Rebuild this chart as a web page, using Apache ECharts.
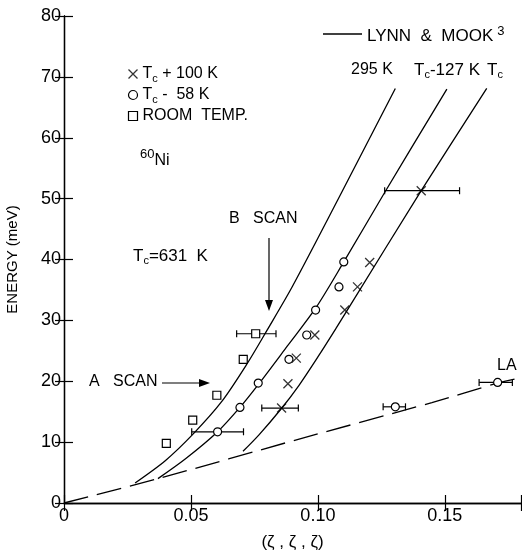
<!DOCTYPE html>
<html>
<head>
<meta charset="utf-8">
<script src="https://cdn.jsdelivr.net/npm/echarts@6/dist/echarts.min.js"></script>
<style>
html, body { margin: 0; padding: 0; background: #fff; }
#main { width: 522px; height: 550px; }
</style>
</head>
<body>
<div id="main"></div>
<script>
var xTickLabels = ['0', '0.05', '0.10', '0.15'];
var yTickLabels = ['0', '10', '20', '30', '40', '50', '60', '70', '80'];

// measured points: [zeta, energy]
var crossPts = [[0.0857, 15.6], [0.0882, 19.6], [0.0915, 23.8], [0.0988, 27.6], [0.1106, 31.7], [0.1156, 35.5], [0.1204, 39.5], [0.1407, 51.3]];
var circlePts = [[0.0605, 11.7], [0.0693, 15.7], [0.0765, 19.7], [0.0886, 23.6], [0.0956, 27.6], [0.0991, 31.7], [0.1083, 35.5], [0.1102, 39.6], [0.1305, 15.8], [0.1708, 19.8]];
var squarePts = [[0.0403, 9.8], [0.0507, 13.6], [0.0602, 17.7], [0.0706, 23.6], [0.0755, 27.8]];
// horizontal error bars: [energy, zeta low, zeta high]
var errBars = [[27.8, 0.068, 0.0835], [11.7, 0.0503, 0.0707], [15.8, 0.1257, 0.1345], [19.8, 0.1635, 0.1766], [15.6, 0.0779, 0.0923], [51.3, 0.1263, 0.1558]];

// Lynn & Mook curves
var curve295 = [[0.028, 3.3], [0.040, 7.0], [0.051, 11.4], [0.062, 16.6], [0.072, 22.8], [0.080, 28.4], [0.090, 35.6], [0.1076, 49.6], [0.1305, 68.1]];
var curveTc127 = [[0.037, 4.0], [0.048, 7.3], [0.0605, 11.7], [0.0697, 15.9], [0.0768, 19.6], [0.088, 25.8], [0.0991, 32.0], [0.1102, 39.6], [0.1263, 51.0], [0.1508, 68.0]];
var curveTc = [[0.0705, 8.5], [0.0768, 11.2], [0.0854, 15.4], [0.0925, 19.3], [0.100, 24.0], [0.107, 28.6], [0.1125, 32.3], [0.1407, 51.3], [0.1665, 68.1]];
var laLine = [[0, 0], [0.037, 4.0], [0.0926, 10.5], [0.1449, 16.5], [0.1708, 19.7], [0.18, 20.6]];

var FONT = '"Liberation Sans", Arial, sans-serif';
var crossPath = 'path://M0,0L10,10M10,0L0,10';

var myChart = echarts.init(document.getElementById('main'));

function curveSeries(data, dashed) {
    return {
        type: 'line',
        data: data,
        smooth: 0.3,
        symbol: 'none',
        silent: true,
        lineStyle: {color: '#000', width: 1.3, type: dashed ? [25, 9] : 'solid'},
        z: 2
    };
}

var sub = {
    t: {fontSize: 16, fontFamily: FONT, color: '#000'},
    s: {fontSize: 11, fontFamily: FONT, color: '#000', padding: [9, 0, 0, 0]},
    p: {fontSize: 11, fontFamily: FONT, color: '#000', padding: [0, 0, 9, 0]}
};

var option = {
    animation: false,
    grid: {left: 64, right: 1, top: 16, bottom: 47, containLabel: false, outerBoundsMode: 'none'},
    legend: {
        orient: 'vertical',
        left: 121,
        top: 61,
        itemWidth: 9,
        itemHeight: 9,
        itemGap: 3,
        textStyle: {rich: sub},
        formatter: function (name) {
            if (name === 'plus') return '{t|T}{s|c}{t| + 100 K}';
            if (name === 'minus') return '{t|T}{s|c}{t| -  58 K}';
            return '{t|ROOM  TEMP.}';
        },
        data: [
            {name: 'plus', icon: crossPath, itemStyle: {color: 'none', borderColor: '#000', borderWidth: 1.3}},
            {name: 'minus', icon: 'circle', itemStyle: {color: '#fff', borderColor: '#000', borderWidth: 1.2}},
            {name: 'room', icon: 'rect', itemStyle: {color: '#fff', borderColor: '#000', borderWidth: 1.2}}
        ]
    },
    xAxis: [{
        type: 'value', min: 0, max: 0.18, interval: 0.05,
        name: '(ζ , ζ , ζ)', nameLocation: 'middle', nameGap: 31,
        nameTextStyle: {fontSize: 17, fontFamily: FONT, color: '#000'},
        axisLine: {lineStyle: {color: '#000', width: 1.3}},
        axisTick: {inside: true, length: 8, lineStyle: {color: '#000', width: 1.2}},
        splitLine: {show: false},
        axisLabel: {
            margin: 4, fontSize: 18, fontFamily: FONT, color: '#000',
            formatter: function (v) {
                var i = Math.round(v / 0.05);
                return Math.abs(v - i * 0.05) < 1e-6 && xTickLabels[i] ? xTickLabels[i] : '';
            }
        }
    }, {
        type: 'value', min: 0, max: 0.18, interval: 0.05, position: 'top',
        axisLine: {lineStyle: {color: '#000', width: 1.3}},
        axisTick: {inside: true, length: 8, lineStyle: {color: '#000', width: 1.2}},
        splitLine: {show: false},
        axisLabel: {show: false}
    }],
    yAxis: [{
        type: 'value', min: 0, max: 80, interval: 10,
        name: 'ENERGY (meV)', nameLocation: 'middle', nameGap: 44,
        nameTextStyle: {fontSize: 15, fontFamily: FONT, color: '#000'},
        axisLine: {lineStyle: {color: '#000', width: 1.3}},
        axisTick: {inside: true, length: 9, lineStyle: {color: '#000', width: 1.2}},
        splitLine: {show: false},
        axisLabel: {
            margin: 3, fontSize: 18, fontFamily: FONT, color: '#000',
            formatter: function (v) { return yTickLabels[Math.round(v / 10)] || ''; }
        }
    }, {
        type: 'value', min: 0, max: 80, interval: 10, position: 'right',
        axisLine: {show: true, lineStyle: {color: '#000', width: 1.3}},
        axisTick: {show: true, inside: true, length: 9, lineStyle: {color: '#000', width: 1.2}},
        splitLine: {show: false},
        axisLabel: {show: false}
    }],
    graphic: [
        // Lynn & Mook key
        {type: 'line', shape: {x1: 323, y1: 34, x2: 362, y2: 34}, style: {stroke: '#000', lineWidth: 1.3}},
        {type: 'text', left: 367, top: 25, style: {text: '{t|LYNN  &  MOOK}{p|3}', rich: {t: {fontSize: 17, fontFamily: FONT, color: '#000'}, p: {fontSize: 13, fontFamily: FONT, padding: [0, 0, 10, 4]}}}},
        {type: 'text', left: 351, top: 62, style: {text: '{t|295 K}', rich: sub}},
        {type: 'text', left: 414, top: 62, style: {text: '{t|T}{s|c}{t|-127 K}', rich: {t: {fontSize: 17, fontFamily: FONT}, s: sub.s}}},
        {type: 'text', left: 487, top: 62, style: {text: '{t|T}{s|c}', rich: {t: {fontSize: 17, fontFamily: FONT}, s: sub.s}}},
        {type: 'text', left: 140, top: 148, style: {text: '{p|60}{t|Ni}', rich: {p: {fontSize: 13, fontFamily: FONT, padding: [0, 0, 12, 0]}, t: sub.t}}},
        {type: 'text', left: 133, top: 248, style: {text: '{t|T}{s|c}{t|=631  K}', rich: {t: {fontSize: 17, fontFamily: FONT}, s: sub.s}}},
        {type: 'text', left: 229, top: 211, style: {text: 'B   SCAN', font: '16px ' + FONT, fill: '#000'}},
        {type: 'line', shape: {x1: 269, y1: 238, x2: 269, y2: 305}, style: {stroke: '#000', lineWidth: 1.2}},
        {type: 'polygon', shape: {points: [[265, 300], [273, 300], [269, 311]]}, style: {fill: '#000'}},
        {type: 'text', left: 89, top: 374, style: {text: 'A   SCAN', font: '16px ' + FONT, fill: '#000'}},
        {type: 'line', shape: {x1: 162, y1: 383, x2: 204, y2: 383}, style: {stroke: '#000', lineWidth: 1.2}},
        {type: 'polygon', shape: {points: [[199, 379], [199, 387], [210, 383]]}, style: {fill: '#000'}},
        {type: 'text', left: 497, top: 358, style: {text: 'LA', font: '16px ' + FONT, fill: '#000'}}
    ],
    series: [
        curveSeries(curve295),
        curveSeries(curveTc127),
        curveSeries(curveTc),
        curveSeries(laLine, true),
        {
            type: 'custom',
            silent: true,
            z: 3,
            encode: {x: [1, 2], y: 0},
            data: errBars,
            renderItem: function (params, api) {
                var lo = api.coord([api.value(1), api.value(0)]);
                var hi = api.coord([api.value(2), api.value(0)]);
                var st = {stroke: '#000', lineWidth: 1.2};
                return {
                    type: 'group',
                    children: [
                        {type: 'line', shape: {x1: lo[0], y1: lo[1], x2: hi[0], y2: hi[1]}, style: st},
                        {type: 'line', shape: {x1: lo[0], y1: lo[1] - 3.5, x2: lo[0], y2: lo[1] + 3.5}, style: st},
                        {type: 'line', shape: {x1: hi[0], y1: hi[1] - 3.5, x2: hi[0], y2: hi[1] + 3.5}, style: st}
                    ]
                };
            }
        },
        {
            name: 'plus', type: 'scatter', data: crossPts, symbol: crossPath, symbolSize: 9, z: 4,
            itemStyle: {color: 'none', borderColor: '#000', borderWidth: 1.3}
        },
        {
            name: 'minus', type: 'scatter', data: circlePts, symbol: 'circle', symbolSize: 8, z: 4,
            itemStyle: {color: '#fff', borderColor: '#000', borderWidth: 1.2, opacity: 1}
        },
        {
            name: 'room', type: 'scatter', data: squarePts, symbol: 'rect', symbolSize: 8, z: 4,
            itemStyle: {color: '#fff', borderColor: '#000', borderWidth: 1.2, opacity: 1}
        }
    ]
};

myChart.setOption(option);
</script>
</body>
</html>
